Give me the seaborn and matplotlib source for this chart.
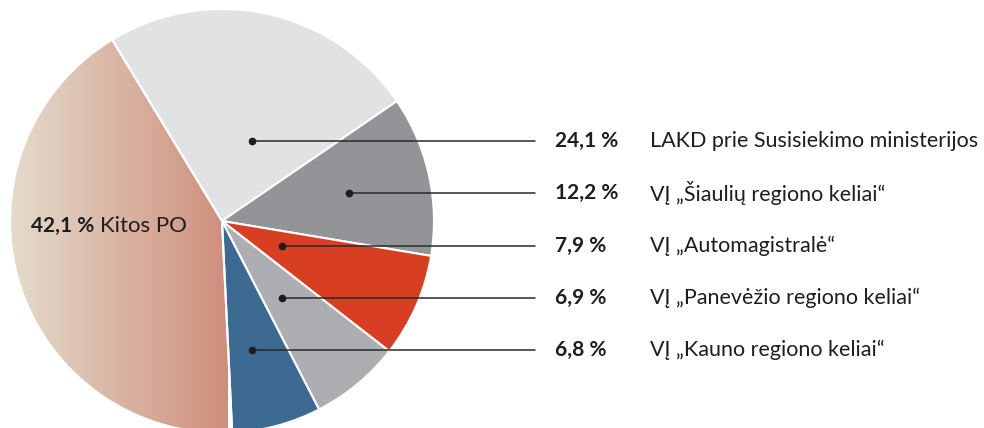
import numpy as np
import matplotlib
matplotlib.use('Agg')
import matplotlib.pyplot as plt
import seaborn as sns
from matplotlib.colors import LinearSegmentedColormap

# data
values = [24.1, 12.2, 7.9, 6.9, 6.8, 42.1]
names = ['LAKD prie Susisiekimo ministerijos',
         'VĮ „Šiaulių regiono keliai“',
         'VĮ „Automagistralė“',
         'VĮ „Panevėžio regiono keliai“',
         'VĮ „Kauno regiono keliai“',
         'Kitos PO']
colors = ['#e1e2e4', '#939498', '#d83f22', '#adaeb1', '#3c6a93', 'none']
grad_left, grad_right = '#e4dccc', '#cf8e7c'

sns.set_theme(style='white')
plt.rcParams['font.family'] = ['Lato', 'DejaVu Sans']

W, H = 984, 428
fig = plt.figure(figsize=(W / 100, H / 100), dpi=100)
ax = fig.add_axes([0, 0, 1, 1])

cx, cy, r = 222, H - 221, 212
wedges, _ = ax.pie(values, colors=colors, startangle=121.2, counterclock=False,
                   center=(cx, cy), radius=r,
                   wedgeprops=dict(edgecolor='white', linewidth=1.5))

# gradient fill for the big "Kitos PO" slice
cmap = LinearSegmentedColormap.from_list('kitos', [grad_left, grad_right])
grad = np.linspace(0, 1, 256).reshape(1, -1)
im = ax.imshow(grad, cmap=cmap, aspect='auto', extent=(cx - r, cx + 6, cy - r, cy + r),
               zorder=0.5, interpolation='bicubic')
im.set_clip_path(wedges[-1])

ax.set_xlim(0, W)
ax.set_ylim(0, H)
ax.set_aspect('auto')
ax.axis('off')

# leader lines and labels
row0, row_gap = 141, 52.25
anchor_x = [252, 349, 282, 282, 252]
line_end = 535
ink = '#1e1e1e'
for i, (v, name) in enumerate(zip(values[:-1], names[:-1])):
    y = H - (row0 + row_gap * i)
    ax.plot([anchor_x[i], line_end], [y, y], color='#2a2a2a', lw=1.1, zorder=3)
    ax.plot(anchor_x[i], y, 'o', color=ink, ms=4.5, zorder=4)
    pct = f'{v:.1f} %'.replace('.', ',')
    ax.text(555, y, pct, fontsize=15, fontweight='bold', color=ink, va='center', ha='left')
    ax.text(650, y, name, fontsize=15.5, color=ink, va='center', ha='left')

ky = H - 226
ax.text(31, ky, f'{values[-1]:.1f} %'.replace('.', ','), fontsize=15, fontweight='bold',
        color=ink, va='center', ha='left', zorder=5)
ax.text(100, ky, names[-1], fontsize=16, color=ink, va='center', ha='left', zorder=5)

fig.savefig('out.png', dpi=100, facecolor='white')
